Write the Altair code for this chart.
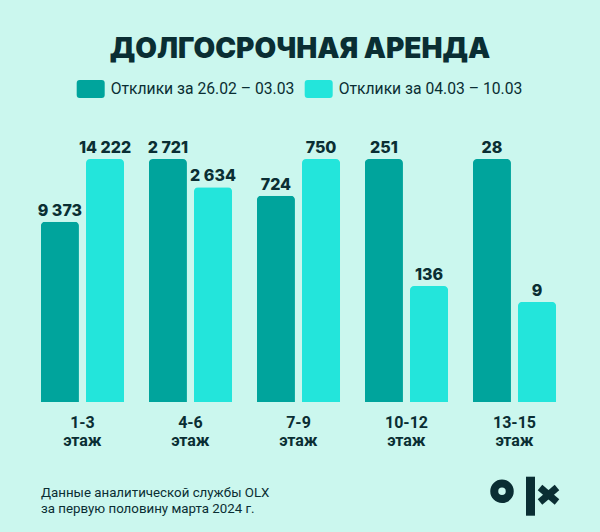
import altair as alt
import pandas as pd

# ---- data ----
floors = ["1-3", "4-6", "7-9", "10-12", "13-15"]
periods = ["Отклики за 26.02 – 03.03", "Отклики за 04.03 – 10.03"]
responses_week1 = [9373, 2721, 724, 251, 28]
responses_week2 = [14222, 2634, 750, 136, 9]
# drawn bar heights, % of the tallest bar in each floor group (the infographic is not to scale)
bar_pct_week1 = [74.2, 100, 84.9, 100, 100]
bar_pct_week2 = [100, 88.4, 100, 47.7, 41.2]
footnote = ["Данные аналитической службы OLX", "за первую половину марта 2024 г."]
title_text = "ДОЛГОСРОЧНАЯ АРЕНДА"

BG = "#CBF7EE"
DARK = "#00A49C"
LIGHT = "#23E5DB"
INK = "#0A2E33"


def fmt(v):
    return f"{v:,}".replace(",", " ")


rows = []
for i, f in enumerate(floors):
    rows.append({"floor": f, "period": periods[0], "pct": bar_pct_week1[i],
                 "value": responses_week1[i], "label": fmt(responses_week1[i])})
    rows.append({"floor": f, "period": periods[1], "pct": bar_pct_week2[i],
                 "value": responses_week2[i], "label": fmt(responses_week2[i])})
df = pd.DataFrame(rows)

x_enc = alt.X("floor:N", sort=floors,
              scale=alt.Scale(paddingInner=0.23, paddingOuter=0.3926, align=0.482),
              axis=alt.Axis(title=None, labelAngle=0, domain=False, ticks=False,
                            labelExpr="[datum.label, 'этаж']",
                            labelFont="Roboto", labelFontSize=16, labelFontWeight="bold",
                            labelLineHeight=18, labelColor=INK, labelPadding=12))
xoff = alt.XOffset("period:N", sort=periods,
                   scale=alt.Scale(paddingInner=0.156, paddingOuter=0))
y_enc = alt.Y("pct:Q", scale=alt.Scale(domain=[0, 100]), axis=None)

rect_path = ("M-1.1,-0.9H1.1Q1.4,-0.9,1.4,-0.6V0.6Q1.4,0.9,1.1,0.9"
             "H-1.1Q-1.4,0.9,-1.4,0.6V-0.6Q-1.4,-0.9,-1.1,-0.9Z")

bars = alt.Chart(df).mark_bar(cornerRadiusTopLeft=4, cornerRadiusTopRight=4).encode(
    x=x_enc, xOffset=xoff, y=y_enc,
    color=alt.Color("period:N", sort=periods,
                    scale=alt.Scale(domain=periods, range=[DARK, LIGHT]),
                    legend=alt.Legend(title=None, orient="none", legendX=80.7, legendY=-80,
                                      direction="horizontal", symbolType=rect_path,
                                      symbolSize=400, symbolStrokeWidth=0, symbolOpacity=1,
                                      labelFont="Roboto", labelFontSize=15.7, labelColor=INK,
                                      labelLimit=0, labelOffset=10, columnPadding=10,
                                      padding=0)),
)

labels = alt.Chart(df).mark_text(baseline="alphabetic", dy=-6, font="Inter",
                                 fontSize=16, fontWeight=800, color=INK).encode(
    x=x_enc, xOffset=xoff, y=y_enc, text="label:N")

foot = alt.Chart(pd.DataFrame({"t": ["\n".join(footnote)]})).mark_text(
    align="left", baseline="alphabetic", lineBreak="\n", lineHeight=15.5,
    font="Roboto", fontSize=13.3, color=INK).encode(
    x=alt.value(41), y=alt.value(338.3), text="t:N")

one = pd.DataFrame({"k": [0]})
logo_o = alt.Chart(one).mark_point(shape="circle", filled=False, size=240,
                                   strokeWidth=8, color=INK, opacity=1).encode(
    x=alt.value(502), y=alt.value(332.3))
logo_bar = alt.Chart(one).mark_rule(strokeWidth=9, color=INK).encode(
    x=alt.value(530.5), y=alt.value(317.7), y2=alt.value(356.7))
logo_x1 = alt.Chart(one).mark_rule(strokeWidth=7, color=INK).encode(
    x=alt.value(540), x2=alt.value(557), y=alt.value(328.5), y2=alt.value(343))
logo_x2 = alt.Chart(one).mark_rule(strokeWidth=7, color=INK).encode(
    x=alt.value(557), x2=alt.value(540), y=alt.value(328.5), y2=alt.value(343))

chart = alt.layer(bars, labels, foot, logo_o, logo_bar, logo_x1, logo_x2).properties(
    width=600, height=243,
    autosize=alt.AutoSizeParams(type="none"),
    padding={"left": 0, "right": 0, "top": 159, "bottom": 130},
    background=BG,
    title=alt.TitleParams(title_text, anchor="middle", font="Inter", fontSize=28,
                          fontWeight=900, color=INK, baseline="alphabetic", offset=21,
                          dy=28),
).configure_view(stroke=None)

chart.save("out.html", embed_options={"renderer": "svg", "actions": False})
